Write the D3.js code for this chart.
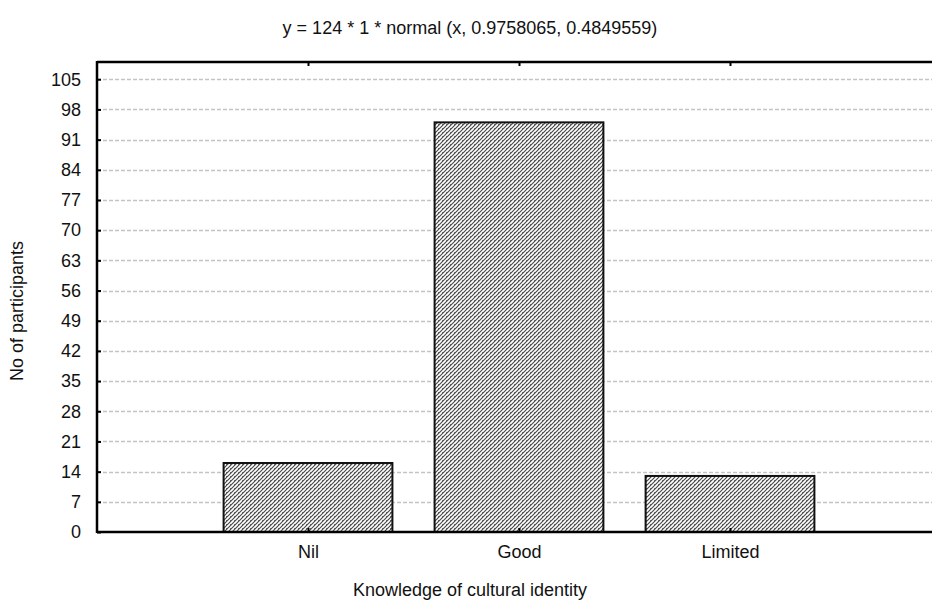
<!DOCTYPE html>
<html>
<head>
<meta charset="utf-8">
<script src="https://cdn.jsdelivr.net/npm/d3@7"></script>
<style>
  html, body { margin: 0; padding: 0; background: #fff; }
  svg { display: block; font-family: Arial, "Liberation Sans", sans-serif; }
</style>
</head>
<body>
<svg id="chart" width="932" height="601"></svg>
<script>
// Responses per knowledge level
const categories = ["Nil", "Good", "Limited"];
const counts = [16, 95, 13];
const yTicks = [0, 7, 14, 21, 28, 35, 42, 49, 56, 63, 70, 77, 84, 91, 98, 105];
const titleText = "y = 124 * 1 * normal (x, 0.9758065, 0.4849559)";
const xTitle = "Knowledge of cultural identity";
const yTitle = "No of participants";

const svg = d3.select("#chart");
const plotLeft = 97, plotTop = 62, plotBottom = 532, plotRight = 941;
const fontSize = 18;

// one empty slot before the first category and after the last
const x = d3.scalePoint().domain(["_a", ...categories, "_b"]).range([plotLeft, plotRight]);
const step = x.step();
const barW = step * 0.8;
const y = d3.scaleLinear().domain([0, 109]).range([plotBottom, plotTop]);

// hatch fill
const defs = svg.append("defs");
const pat = defs.append("pattern")
  .attr("id", "hatch").attr("patternUnits", "userSpaceOnUse")
  .attr("width", 4).attr("height", 4);
pat.append("rect").attr("width", 4).attr("height", 4).attr("fill", "#fff");
pat.append("path").attr("d", "M-1,1 L1,-1 M0,4 L4,0 M3,5 L5,3")
  .attr("stroke", "#4a4a4a").attr("stroke-width", 1.2);
pat.append("rect").attr("x", 2).attr("y", 0).attr("width", 1).attr("height", 1).attr("fill", "#666");

// gridlines
svg.append("g").selectAll("line").data(yTicks.filter(d => d > 0)).join("line")
  .attr("x1", plotLeft).attr("x2", 932)
  .attr("y1", d => Math.round(y(d)) + 0.5).attr("y2", d => Math.round(y(d)) + 0.5)
  .attr("stroke", "#c4c4c4").attr("stroke-width", 1.4).attr("stroke-dasharray", "4,2");

// bars
svg.append("g").selectAll("rect").data(categories).join("rect")
  .attr("x", (d) => x(d) - barW / 2)
  .attr("y", (d, i) => y(counts[i]))
  .attr("width", barW)
  .attr("height", (d, i) => y(0) - y(counts[i]))
  .attr("fill", "url(#hatch)")
  .attr("stroke", "#111").attr("stroke-width", 2);

// left axis
const yAxis = d3.axisLeft(y).tickValues(yTicks).tickSize(-4).tickPadding(16);
const gy = svg.append("g").attr("transform", `translate(${plotLeft},0)`).call(yAxis);
gy.select(".domain").remove();
gy.selectAll(".tick line").attr("stroke", "#000").attr("stroke-width", 2);
gy.selectAll(".tick text").attr("font-size", fontSize).attr("fill", "#111")
  .attr("font-family", "Arial, 'Liberation Sans', sans-serif");

// bottom axis
const xAxis = d3.axisBottom(x).tickValues(categories).tickSize(-4).tickPadding(13);
const gx = svg.append("g").attr("transform", `translate(0,${plotBottom})`).call(xAxis);
gx.select(".domain").remove();
gx.selectAll(".tick line").attr("stroke", "#000").attr("stroke-width", 2);
gx.selectAll(".tick text").attr("font-size", fontSize).attr("fill", "#111")
  .attr("font-family", "Arial, 'Liberation Sans', sans-serif");

// top axis ticks
const topAxis = d3.axisTop(x).tickValues(categories).tickSize(-4).tickFormat("");
const gt = svg.append("g").attr("transform", `translate(0,${plotTop})`).call(topAxis);
gt.select(".domain").remove();
gt.selectAll(".tick line").attr("stroke", "#000").attr("stroke-width", 2);

// frame
const frame = svg.append("g").attr("stroke", "#000").attr("stroke-width", 2.5);
frame.append("line").attr("x1", plotLeft).attr("x2", 932).attr("y1", plotTop).attr("y2", plotTop);
frame.append("line").attr("x1", plotLeft).attr("x2", 932).attr("y1", plotBottom).attr("y2", plotBottom);
frame.append("line").attr("x1", plotLeft).attr("x2", plotLeft).attr("y1", plotTop - 1).attr("y2", plotBottom + 1);

// titles
svg.append("text").attr("x", 470).attr("y", 34).attr("text-anchor", "middle")
  .attr("font-size", fontSize).attr("fill", "#111").text(titleText);
svg.append("text").attr("x", 470).attr("y", 596).attr("text-anchor", "middle")
  .attr("font-size", fontSize).attr("fill", "#111").text(xTitle);
svg.append("text").attr("transform", "translate(23,311) rotate(-90)").attr("text-anchor", "middle")
  .attr("font-size", fontSize).attr("fill", "#111").text(yTitle);
</script>
</body>
</html>
